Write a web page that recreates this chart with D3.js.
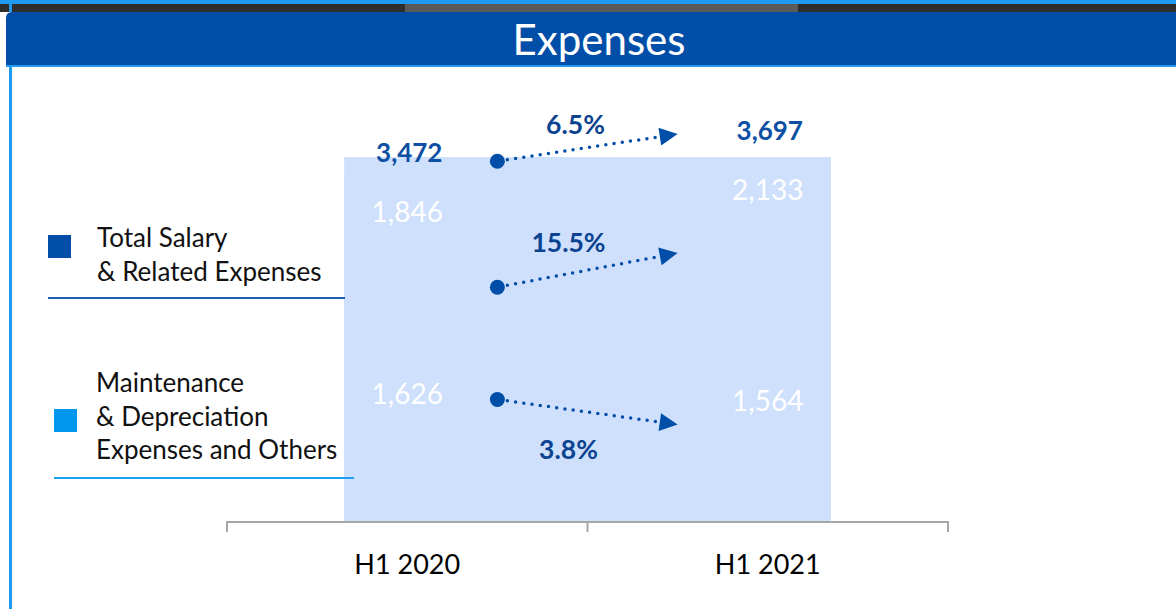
<!DOCTYPE html>
<html>
<head>
<meta charset="utf-8">
<script src="https://cdn.jsdelivr.net/npm/d3@7"></script>
<style>
  body { margin: 0; background: #fff; }
  svg { display: block; font-family: Lato, "Open Sans", sans-serif; }
</style>
</head>
<body>
<svg id="chart" width="1176" height="609"></svg>
<script>
// chart values
var categories = ["H1 2020", "H1 2021"];
var salary = [1846, 2133];
var maintenance = [1626, 1564];
var totals = [3472, 3697];
var growth = ["6.5%", "15.5%", "3.8%"]; // total, salary, maintenance
var legendNames = [["Total Salary", "& Related Expenses"], ["Maintenance", "& Depreciation", "Expenses and Others"]];

var darkBlue = "#004ea8", lightBlue = "#0096ee", barFill = "#cfe0fc";

var svg = d3.select("#chart");

// top frame bits
svg.append("rect").attr("x", 0).attr("y", 0).attr("width", 1176).attr("height", 4).attr("fill", "#1e9bf0");
svg.append("rect").attr("x", 0).attr("y", 4).attr("width", 1176).attr("height", 8).attr("fill", "#2e2e2e");
svg.append("rect").attr("x", 405).attr("y", 4).attr("width", 393).attr("height", 8).attr("fill", "#5a5a5a");
svg.append("path")
  .attr("d", "M6,18 Q6,12 12,12 L1176,12 L1176,65 L6,65 Z")
  .attr("fill", darkBlue);
svg.append("rect").attr("x", 6).attr("y", 65).attr("width", 1170).attr("height", 2).attr("fill", "#1e9bf0");
svg.append("rect").attr("x", 9).attr("y", 65).attr("width", 3).attr("height", 544).attr("fill", "#1e9bf0");
svg.append("rect").attr("x", 9).attr("y", 0).attr("width", 3).attr("height", 12).attr("fill", "#1e9bf0");
svg.append("text")
  .attr("x", 599).attr("y", 55)
  .attr("text-anchor", "middle")
  .attr("fill", "#fff")
  .attr("font-size", 42)
  .text("Expenses");

// scales
var x = d3.scaleBand().domain(categories).range([227, 948]).padding(0);
var y = d3.scaleLinear().domain([0, d3.max(totals)]).range([522, 157]);
var bw = x.bandwidth() * 0.35;
var cx = function(c) { return x(c) + x.bandwidth() / 2; };

// plot background between the bars
svg.append("rect")
  .attr("x", cx(categories[0]) - bw / 2)
  .attr("y", y(d3.max(totals)))
  .attr("width", cx(categories[1]) - cx(categories[0]) + bw)
  .attr("height", y(0) - y(d3.max(totals)))
  .attr("fill", barFill);

// stacked bars (same pale tone as the panel)
var rows = categories.map(function(c, i) { return { cat: c, maintenance: maintenance[i], salary: salary[i] }; });
var stack = d3.stack().keys(["maintenance", "salary"])(rows);
var g = svg.append("g");
stack.forEach(function(layer) {
  g.selectAll(null).data(layer).enter().append("rect")
    .attr("x", function(d) { return cx(d.data.cat) - bw / 2; })
    .attr("y", function(d) { return y(d[1]); })
    .attr("width", bw)
    .attr("height", function(d) { return y(d[0]) - y(d[1]); })
    .attr("fill", barFill);
  g.selectAll(null).data(layer).enter().append("text")
    .attr("x", function(d) { return cx(d.data.cat); })
    .attr("y", function(d) { return y(d[1]) + 43; })
    .attr("text-anchor", "middle")
    .attr("fill", "#fff")
    .attr("font-size", 28)
    .text(function(d) { return d3.format(",")(d[1] - d[0]); });
});

// totals
svg.selectAll(".total").data(categories).enter().append("text")
  .attr("x", function(c) { return cx(c) + 2; })
  .attr("y", function(c, i) { return y(totals[i]) - 17; })
  .attr("text-anchor", "middle")
  .attr("fill", "#0d4fa3")
  .attr("font-size", 26)
  .attr("font-weight", "bold")
  .text(function(c, i) { return d3.format(",")(totals[i]); });

// axis
var axis = svg.append("g").attr("transform", "translate(0,522)");
axis.append("path")
  .attr("d", "M" + x.range()[0] + ",10V0H" + x.range()[1] + "V10")
  .attr("fill", "none").attr("stroke", "#a6a6a6").attr("stroke-width", 2);
axis.append("line")
  .attr("x1", x(categories[1])).attr("x2", x(categories[1]))
  .attr("y1", 0).attr("y2", 10)
  .attr("stroke", "#a6a6a6").attr("stroke-width", 2);
axis.selectAll(".cat").data(categories).enter().append("text")
  .attr("x", function(c) { return cx(c); })
  .attr("y", 52)
  .attr("text-anchor", "middle")
  .attr("fill", "#000")
  .attr("font-size", 27)
  .text(function(c) { return c; });

// growth arrows
var defs = svg.append("defs");
defs.append("marker")
  .attr("id", "head")
  .attr("viewBox", "0 0 10 10")
  .attr("refX", 10).attr("refY", 5)
  .attr("markerWidth", 24).attr("markerHeight", 18)
  .attr("markerUnits", "userSpaceOnUse")
  .attr("orient", "auto")
  .append("path").attr("d", "M0,0L10,5L0,10Z").attr("fill", darkBlue);

var xa = cx(categories[0]) + x.bandwidth() * 0.25;
var xb = cx(categories[1]) - x.bandwidth() * 0.25;
var arrows = [
  { y0: y(totals[0]) - 18, y1: y(totals[1]) - 23, label: growth[0], dx: -12, dy: -14 },
  { y0: y(maintenance[0] + salary[0]) + 108, y1: y(maintenance[1] + salary[1]) + 96, label: growth[1], dx: -19, dy: -18 },
  { y0: y(maintenance[0]) + 38, y1: y(maintenance[1]) + 57, label: growth[2], dx: -19, dy: 47 }
];
arrows.forEach(function(a) {
  svg.append("line")
    .attr("x1", xa + 10).attr("y1", a.y0 + (a.y1 - a.y0) * 10 / (xb - xa))
    .attr("x2", xb).attr("y2", a.y1)
    .attr("stroke", darkBlue).attr("stroke-width", 3.5)
    .attr("stroke-linecap", "round")
    .attr("stroke-dasharray", "0 8.3")
    .attr("marker-end", "url(#head)");
  svg.append("circle").attr("cx", xa).attr("cy", a.y0).attr("r", 7.5).attr("fill", darkBlue);
  svg.append("text")
    .attr("x", (xa + xb) / 2 + a.dx)
    .attr("y", (a.y0 + a.y1) / 2 + a.dy)
    .attr("text-anchor", "middle")
    .attr("fill", "#0b4391")
    .attr("font-size", 26.5)
    .attr("font-weight", "bold")
    .text(a.label);
});

// legend
var legend = [
  { color: darkBlue, sq: [48, 235], text: [97, 247], line: [48, 345, 298], lineColor: "#1f5fb0" },
  { color: lightBlue, sq: [54, 409], text: [96, 392], line: [54, 354, 478], lineColor: "#1ea0f0" }
];
legend.forEach(function(l, i) {
  svg.append("rect").attr("x", l.sq[0]).attr("y", l.sq[1]).attr("width", 23).attr("height", 23).attr("fill", l.color);
  var t = svg.append("text").attr("x", l.text[0]).attr("y", l.text[1]).attr("font-size", 26).attr("fill", "#111");
  legendNames[i].forEach(function(s, j) {
    t.append("tspan").attr("x", l.text[0]).attr("dy", j === 0 ? 0 : 33.5).text(s);
  });
  svg.append("line")
    .attr("x1", l.line[0]).attr("x2", l.line[1])
    .attr("y1", l.line[2]).attr("y2", l.line[2])
    .attr("stroke", l.lineColor).attr("stroke-width", 2);
});
</script>
</body>
</html>
